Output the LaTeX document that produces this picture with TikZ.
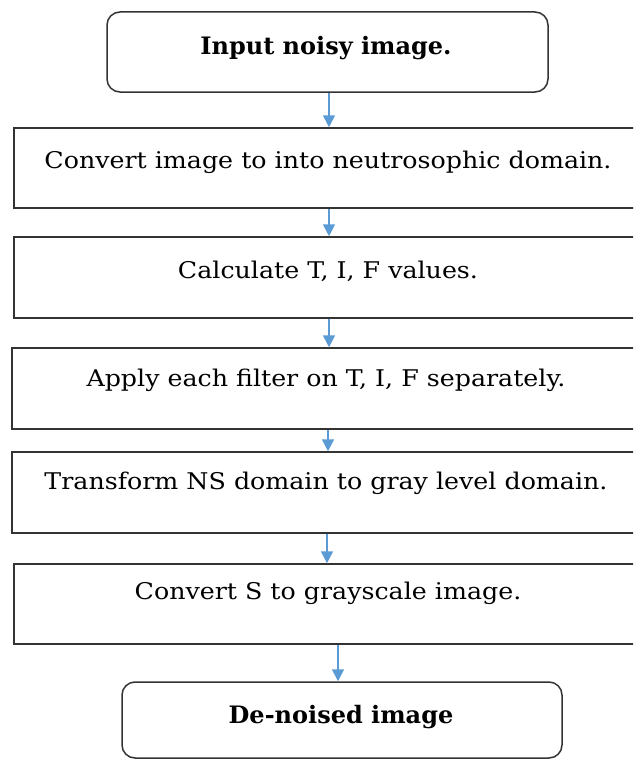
\documentclass[tikz,border=0pt]{standalone}
\usepackage{fontspec}
\setmainfont[FakeStretch=1.1]{DejaVu Serif}
\newfontfamily\boldfam{DejaVu Serif}
\usetikzlibrary{arrows.meta}
\definecolor{arrowblue}{HTML}{5B9BD5}
\definecolor{edgegray}{HTML}{333333}
\tikzset{
  stepbox/.style={draw=edgegray, line width=1.5pt, fill=white, inner sep=0pt},
  roundbox/.style={stepbox, rounded corners=13pt},
  txt/.style={inner sep=0pt, anchor=center, font=\fontsize{23}{27}\selectfont},
  boldtxt/.style={inner sep=0pt, anchor=center, font=\boldfam\bfseries\fontsize{24}{28}\selectfont},
  arr/.style={draw=arrowblue, line width=1.6pt, -{Triangle[length=12pt,width=12pt]}}
}
\begin{document}
\begin{tikzpicture}[x=1pt,y=-1pt]
\useasboundingbox (0,0) rectangle (633,760);
\clip (0,0) rectangle (633,760);
\node[roundbox, minimum width=441pt, minimum height=80pt] (b1) at (327.5,52) {};
\node[stepbox, minimum width=630pt, minimum height=80pt] (b2) at (329,168) {};
\node[stepbox, minimum width=630pt, minimum height=81pt] (b3) at (329,277.5) {};
\node[stepbox, minimum width=632pt, minimum height=81pt] (b4) at (328,388.5) {};
\node[stepbox, minimum width=632pt, minimum height=81pt] (b5) at (328,492.5) {};
\node[stepbox, minimum width=630pt, minimum height=80pt] (b6) at (329,604) {};
\node[roundbox, minimum width=440pt, minimum height=76pt] (b7) at (342,720) {};

\node[boldtxt] (t1) at (326,48) {Input noisy image.};
\node[txt] (t2) at (328,162) {Convert image to into neutrosophic domain.};
\node[txt] (t3) at (328,271) {Calculate T, I, F values.};
\node[txt] (t4) at (326,380) {Apply each filter on T, I, F separately.};
\node[txt] (t5) at (326,483) {Transform NS domain to gray level domain.};
\node[txt] (t6) at (328,593) {Convert S to grayscale image.};
\node[boldtxt] (t7) at (341,717) {De-noised image};

\draw[arr] ([xshift=1.5pt]b1.south) -- ([xshift=1.5pt]b1.south |- b2.north);
\draw[arr] (b2.south) -- (b3.north);
\draw[arr] (b3.south) -- (b3.south |- b4.north);
\draw[arr] (b4.south) -- (b4.south |- b5.north);
\draw[arr] ([xshift=-1pt]b5.south) -- ([xshift=-1pt]b5.south |- b6.north);
\draw[arr] ([xshift=-4pt]b7.north |- b6.south) -- ([xshift=-4pt]b7.north);
\end{tikzpicture}
\end{document}
